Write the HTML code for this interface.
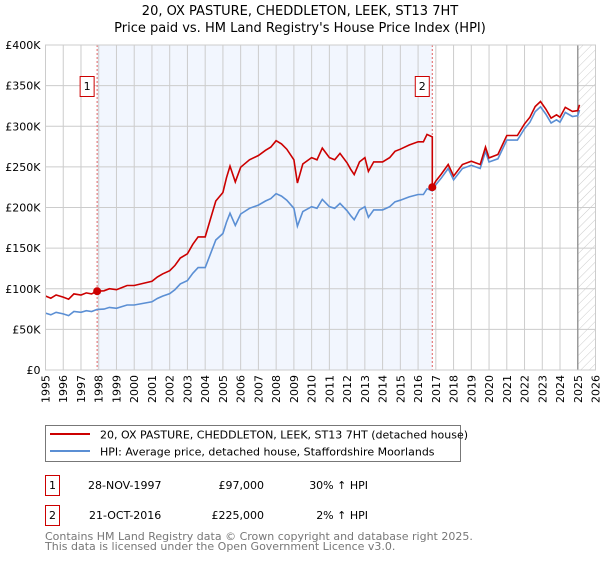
<!DOCTYPE html>
<html><head><meta charset="utf-8"><style>
body{margin:0;background:#fff;font-family:"DejaVu Sans","Liberation Sans",sans-serif;}
svg text{font-family:"DejaVu Sans","Liberation Sans",sans-serif;}
</style></head><body>
<svg id="c" width="600" height="560" viewBox="0 0 600 560" xmlns="http://www.w3.org/2000/svg">
<defs><pattern id="hatch" width="6" height="6" patternUnits="userSpaceOnUse" patternTransform="rotate(45)"><line x1="0" y1="0" x2="0" y2="6" stroke="#ccc" stroke-width="1"/></pattern></defs>
<text x="300" y="15" text-anchor="middle" font-size="13" fill="#000">20, OX PASTURE, CHEDDLETON, LEEK, ST13 7HT</text>
<text x="300" y="32" text-anchor="middle" font-size="13" fill="#000">Price paid vs. HM Land Registry's House Price Index (HPI)</text>
<g id="plot"></g>
<g>
<rect x="45.5" y="425.5" width="415" height="36" fill="#fff" stroke="#777"/>
<line x1="50" y1="434" x2="90" y2="434" stroke="#cc0000" stroke-width="2"/>
<text x="100" y="438.5" font-size="11">20, OX PASTURE, CHEDDLETON, LEEK, ST13 7HT (detached house)</text>
<line x1="50" y1="451" x2="90" y2="451" stroke="#5b8fd4" stroke-width="2"/>
<text x="100" y="455.5" font-size="11">HPI: Average price, detached house, Staffordshire Moorlands</text>
</g>
<g font-size="11">
<rect x="45.5" y="475.5" width="14" height="20" fill="#fff" stroke="#cc0000"/>
<text x="52.5" y="489" text-anchor="middle">1</text>
<text x="88" y="489">28-NOV-1997</text>
<text x="264" y="489" text-anchor="end">£97,000</text>
<text x="368" y="489" text-anchor="end">30% ↑ HPI</text>
<rect x="45.5" y="505.5" width="14" height="20" fill="#fff" stroke="#cc0000"/>
<text x="52.5" y="519" text-anchor="middle">2</text>
<text x="89" y="519">21-OCT-2016</text>
<text x="264" y="519" text-anchor="end">£225,000</text>
<text x="368" y="519" text-anchor="end">2% ↑ HPI</text>
</g>
<text x="45" y="540" font-size="11" fill="#777">Contains HM Land Registry data © Crown copyright and database right 2025.</text>
<text x="45" y="550" font-size="11" fill="#777">This data is licensed under the Open Government Licence v3.0.</text>
</svg>
<script>
const hpiYears=[1995,1995.3,1995.6,1996,1996.3,1996.6,1997,1997.3,1997.6,1997.91,1998.3,1998.6,1999,1999.3,1999.6,2000,2000.5,2001,2001.3,2001.6,2002,2002.3,2002.6,2003,2003.3,2003.6,2004,2004.3,2004.6,2005,2005.2,2005.4,2005.7,2006,2006.5,2007,2007.4,2007.7,2008,2008.3,2008.6,2009,2009.2,2009.5,2010,2010.3,2010.6,2011,2011.3,2011.6,2012,2012.2,2012.4,2012.7,2013,2013.2,2013.5,2014,2014.4,2014.7,2015,2015.5,2016,2016.3,2016.5,2016.8,2017,2017.3,2017.7,2018,2018.5,2019,2019.5,2019.8,2020,2020.5,2021,2021.3,2021.6,2022,2022.3,2022.6,2022.9,2023.2,2023.5,2023.8,2024,2024.3,2024.7,2025,2025.1];
const hpiValues=[70,68,71,69,67,72,71,73,72,74.6,75,77,76,78,80,80,82,84,88,91,94,99,106,110,119,126,126,143,160,168,182,193,178,192,199,203,208,211,217,214,209,199,177,195,201,199,210,201,199,205,196,190,185,197,201,188,197,197,201,207,209,213,216,216,223,220.6,228,236,248,234,248,252,248,269,256,260,283,283,283,297,305,318,324,315,304,308,305,317,312,313,320];
const saleYears=[1997.91,2016.8];
const salePrices=[97,225];
const yTicks=[0,50,100,150,200,250,300,350,400];
const yTickLabels=["£0","£50K","£100K","£150K","£200K","£250K","£300K","£350K","£400K"];
const xTickYears=[1995,1996,1997,1998,1999,2000,2001,2002,2003,2004,2005,2006,2007,2008,2009,2010,2011,2012,2013,2014,2015,2016,2017,2018,2019,2020,2021,2022,2023,2024,2025,2026];
const X0=45.5,X1=595.5,Y0=370,Y1=45,YMIN=1995,YMAX=2026,VMAX=400;
const xs=y=>X0+(y-YMIN)/(YMAX-YMIN)*(X1-X0);
const ys=v=>Y0-v/VMAX*(Y0-Y1);
const NS="http://www.w3.org/2000/svg";
const g=document.getElementById('plot');
function mk(t,a){const e=document.createElementNS(NS,t);for(const k in a)e.setAttribute(k,a[k]);g.appendChild(e);return e;}
function hpiAt(y){for(let i=1;i<hpiYears.length;i++){if(y<=hpiYears[i]){const t=(y-hpiYears[i-1])/(hpiYears[i]-hpiYears[i-1]);return hpiValues[i-1]+t*(hpiValues[i]-hpiValues[i-1]);}}return hpiValues[hpiValues.length-1];}
let e;
e=mk('rect',{x:xs(saleYears[0]),y:Y1,width:xs(saleYears[1])-xs(saleYears[0]),height:Y0-Y1,fill:'#f2f6fe'});


e=mk('rect',{x:xs(2025),y:Y1,width:X1-xs(2025),height:Y0-Y1,fill:'url(#hatch)'});


xTickYears.forEach(yr=>{
 e=mk('line',{x1:xs(yr),x2:xs(yr),y1:Y1,y2:Y0,stroke:'#ccc','stroke-width':1});
 
 
 const tx=xs(yr)+4,ty=Y0+5;
 e=mk('text',{x:tx,y:ty,'text-anchor':'end','font-size':11,transform:'rotate(-90 '+tx+' '+ty+')'});
 e.textContent=yr;
 
 
});
yTicks.forEach((v,i)=>{
 e=mk('line',{x1:X0,x2:X1,y1:ys(v),y2:ys(v),stroke:'#ccc','stroke-width':1});
 
 
 e=mk('text',{x:X0-5,y:ys(v)+4,'text-anchor':'end','font-size':11});
 e.textContent=yTickLabels[i];
 
 
});
e=mk('line',{x1:xs(2025),x2:xs(2025),y1:Y1,y2:Y0,stroke:'#999','stroke-width':1.5});


saleYears.forEach((sy,i)=>{
 e=mk('line',{x1:xs(sy),x2:xs(sy),y1:Y1,y2:Y0,stroke:'#e06060','stroke-width':1,'stroke-dasharray':'2,2'});
 
 
});
let d=hpiYears.map((y,i)=>(i?'L':'M')+xs(y).toFixed(1)+','+ys(hpiValues[i]).toFixed(1)).join('');
e=mk('path',{d:d,fill:'none',stroke:'#5b8fd4','stroke-width':1.6});


const f1=salePrices[0]/hpiAt(saleYears[0]),f2=salePrices[1]/hpiAt(saleYears[1]);
let pts=[];
hpiYears.forEach((y,i)=>{if(y<saleYears[1])pts.push([y,hpiValues[i]*f1]);});
pts.push([saleYears[1],hpiAt(saleYears[1])*f1]);
pts.push([saleYears[1],salePrices[1]]);
hpiYears.forEach((y,i)=>{if(y>saleYears[1])pts.push([y,hpiValues[i]*f2]);});
d=pts.map((p,i)=>(i?'L':'M')+xs(p[0]).toFixed(1)+','+ys(p[1]).toFixed(1)).join('');
e=mk('path',{d:d,fill:'none',stroke:'#cc0000','stroke-width':1.6});


saleYears.forEach((sy,i)=>{
 e=mk('circle',{cx:xs(sy),cy:ys(salePrices[i]),r:4,fill:'#cc0000'});
 
 
 const bx=xs(sy)-17;
 e=mk('rect',{x:bx,y:76.5,width:14,height:20,fill:'#fff',stroke:'#cc0000'});
 
 
 e=mk('text',{x:bx+7,y:90,'text-anchor':'middle','font-size':11});
 e.textContent=String(i+1);
 
 
});
e=mk('rect',{x:X0,y:Y1,width:X1-X0,height:Y0-Y1,fill:'none',stroke:'#ccc'});


</script>
</body></html>
